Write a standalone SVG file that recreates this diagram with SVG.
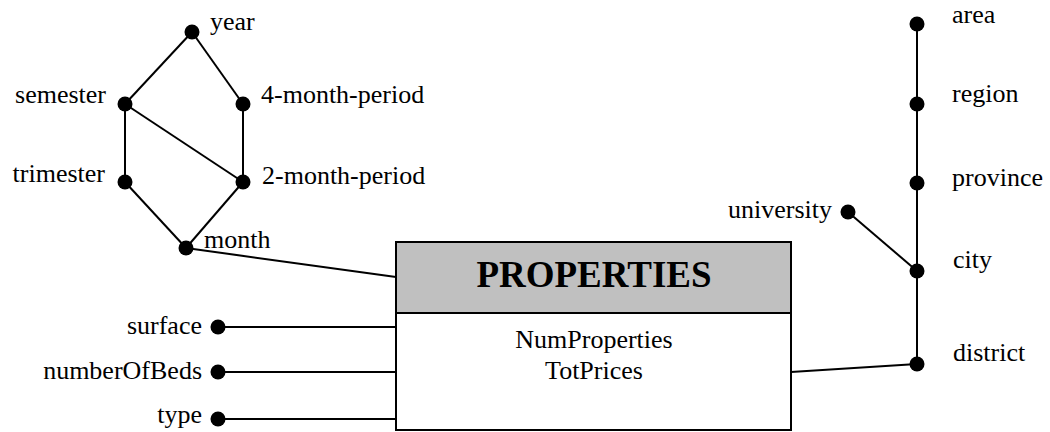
<svg xmlns="http://www.w3.org/2000/svg" width="1050" height="432" viewBox="0 0 1050 432" font-family="'Liberation Serif', 'Times New Roman', serif">
<style>
text{font-family:"Liberation Serif","Times New Roman",serif;font-size:26px;fill:#000}
.e{text-anchor:end}
.m{text-anchor:middle}
.t{font-weight:bold;font-size:37px}
line{stroke:#000;stroke-width:2}
circle{fill:#000}
.box{stroke:#000;stroke-width:2}
</style>
<rect width="1050" height="432" fill="#fff"/>
<g id="connectors">
<line x1="192" y1="32" x2="125" y2="104"/>
<line x1="192" y1="32" x2="243" y2="104"/>
<line x1="125" y1="104" x2="125" y2="182"/>
<line x1="125" y1="104" x2="243" y2="182"/>
<line x1="243" y1="104" x2="243" y2="182"/>
<line x1="125" y1="182" x2="186" y2="248"/>
<line x1="243" y1="182" x2="186" y2="248"/>
<line x1="186" y1="248" x2="396" y2="277"/>
<line x1="218" y1="327" x2="396" y2="327"/>
<line x1="218" y1="372" x2="396" y2="372"/>
<line x1="218" y1="419" x2="396" y2="419"/>
<line x1="917" y1="24" x2="917" y2="364"/>
<line x1="848" y1="212" x2="917" y2="271"/>
<line x1="791" y1="372" x2="917" y2="364"/>
</g>
<g id="properties">
<rect class="box" x="396" y="242" width="395" height="71" fill="#c0c0c0"/>
<rect class="box" x="396" y="313" width="395" height="117" fill="#fff"/>
<text class="m t" x="594" y="287">PROPERTIES</text>
<text class="m" x="594" y="348">NumProperties</text>
<text class="m" x="594" y="379">TotPrices</text>
</g>
<g id="year"><circle cx="192" cy="32" r="7.5"/><text x="210" y="30">year</text></g>
<g id="semester"><circle cx="125" cy="104" r="7.5"/><text class="e" x="106" y="103">semester</text></g>
<g id="four-month-period"><circle cx="243" cy="104" r="7.5"/><text x="261" y="103">4-month-period</text></g>
<g id="trimester"><circle cx="125" cy="182" r="7.5"/><text class="e" x="105" y="182">trimester</text></g>
<g id="two-month-period"><circle cx="243" cy="182" r="7.5"/><text x="262" y="184">2-month-period</text></g>
<g id="month"><circle cx="186" cy="248" r="7.5"/><text x="204" y="248">month</text></g>
<g id="surface"><circle cx="218" cy="327" r="7.5"/><text class="e" x="202" y="334">surface</text></g>
<g id="numberOfBeds"><circle cx="218" cy="372" r="7.5"/><text class="e" x="202" y="379">numberOfBeds</text></g>
<g id="type"><circle cx="218" cy="419" r="7.5"/><text class="e" x="202" y="423">type</text></g>
<g id="area"><circle cx="917" cy="24" r="7.5"/><text x="952" y="23">area</text></g>
<g id="region"><circle cx="917" cy="104" r="7.5"/><text x="952" y="102">region</text></g>
<g id="province"><circle cx="917" cy="183" r="7.5"/><text x="952" y="186">province</text></g>
<g id="university"><circle cx="848" cy="212" r="7.5"/><text class="e" x="832" y="218">university</text></g>
<g id="city"><circle cx="917" cy="271" r="7.5"/><text x="953" y="268">city</text></g>
<g id="district"><circle cx="917" cy="364" r="7.5"/><text x="953" y="361">district</text></g>
</svg>
